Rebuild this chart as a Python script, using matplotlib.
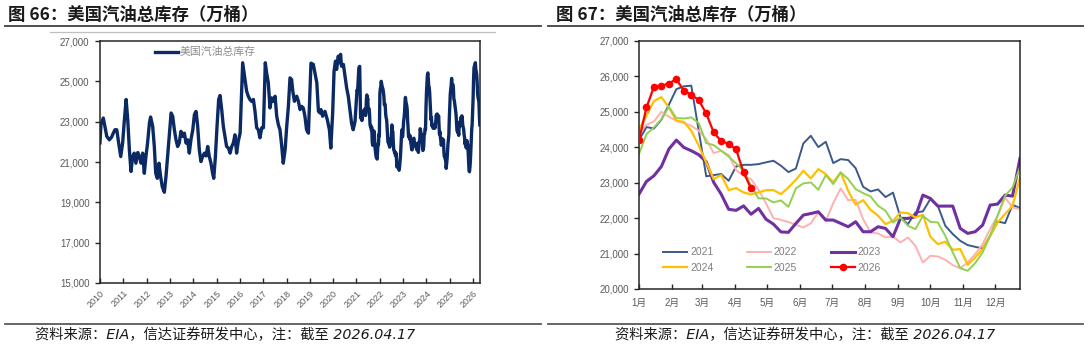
import matplotlib
matplotlib.use("Agg")
import matplotlib.pyplot as plt
from matplotlib.lines import Line2D
import numpy as np

plt.rcParams['font.family'] = ['Liberation Sans', 'Noto Sans CJK SC', 'DejaVu Sans']

# ---------------- data ----------------
# Left panel: 2010-2020 readings (decimal year, 10k barrels)
early_dates = [2010.00, 2010.04, 2010.14, 2010.21, 2010.29, 2010.40, 2010.50, 2010.57, 2010.64, 2010.72,
               2010.79, 2010.89, 2010.97, 2011.04, 2011.12, 2011.19, 2011.26, 2011.33, 2011.40, 2011.47,
               2011.54, 2011.62, 2011.69, 2011.76, 2011.83, 2011.90, 2011.97, 2012.04, 2012.12, 2012.17,
               2012.26, 2012.33, 2012.39, 2012.46, 2012.53, 2012.60, 2012.67, 2012.76, 2012.83, 2012.90,
               2012.97, 2013.05, 2013.12, 2013.19, 2013.26, 2013.33, 2013.40, 2013.47, 2013.55, 2013.62,
               2013.69, 2013.76, 2013.83, 2013.90, 2013.98, 2014.05, 2014.12, 2014.19, 2014.26, 2014.33,
               2014.40, 2014.48, 2014.55, 2014.62, 2014.69, 2014.76, 2014.83, 2014.88, 2014.95, 2015.02,
               2015.09, 2015.15, 2015.22, 2015.29, 2015.36, 2015.43, 2015.51, 2015.58, 2015.65, 2015.72,
               2015.79, 2015.86, 2015.93, 2016.01, 2016.06, 2016.12, 2016.22, 2016.29, 2016.36, 2016.43,
               2016.51, 2016.58, 2016.65, 2016.72, 2016.79, 2016.86, 2016.94, 2017.01, 2017.09, 2017.15,
               2017.22, 2017.29, 2017.36, 2017.44, 2017.51, 2017.58, 2017.65, 2017.72, 2017.79, 2017.86,
               2017.94, 2018.01, 2018.08, 2018.15, 2018.22, 2018.27, 2018.34, 2018.44, 2018.51, 2018.58,
               2018.65, 2018.72, 2018.79, 2018.86, 2018.94, 2019.05, 2019.15, 2019.22, 2019.30, 2019.37,
               2019.44, 2019.48, 2019.55, 2019.65, 2019.75, 2019.84, 2019.90, 2019.98, 2020.04, 2020.10,
               2020.15, 2020.22, 2020.27, 2020.32, 2020.36, 2020.44, 2020.51, 2020.58, 2020.65, 2020.72,
               2020.79, 2020.86, 2020.94]
early_values = [21950, 22850, 23180, 22770, 22270, 22100, 22240, 22430, 22600, 22600,
                22020, 21270, 21940, 23000, 24100, 23100, 21600, 20530, 21270, 21440,
                20940, 21470, 21270, 20940, 21440, 20440, 21270, 21940, 22930, 23230,
                22770, 21770, 20440, 20190, 20940, 20280, 19780, 19500, 20280, 21270,
                22270, 23430, 23260, 22600, 22100, 21770, 21940, 22520, 22270, 22430,
                21940, 22100, 21440, 22100, 22600, 23350, 23510, 22770, 21600, 21020,
                21270, 21440, 21300, 21770, 21270, 20940, 20440, 20190, 21270, 22770,
                24100, 24300, 23600, 22770, 22270, 21770, 21690, 21440, 21770, 21940,
                22350, 21440, 22020, 22430, 24000, 25920, 25090, 24510, 24260, 24100,
                24000, 24100, 23500, 22700, 22600, 22200, 22700, 22700, 25920, 25400,
                24930, 23680, 24180, 24010, 24260, 23270, 22850, 22600, 21850, 20940,
                21600, 22770, 23760, 25170, 25090, 24510, 24010, 24260, 24010, 23600,
                23760, 23680, 23270, 22600, 22430, 25900, 25840, 25420, 24930, 23510,
                23430, 23600, 23270, 23510, 23100, 22600, 21690, 23430, 25500, 26000,
                25590, 26250, 25920, 26340, 25750, 25840, 25260, 24670, 24260, 23600,
                22930, 22600, 23020]

# Weekly values by year (right panel, and left panel from 2021)
years = [2021, 2022, 2023, 2024, 2025, 2026]
v2021 = [24200, 24570, 24530, 24780, 25200, 25640, 25720, 25740, 24460, 23180,
         23215, 23245, 23055, 23460, 23505, 23505, 23525, 23575, 23620, 23480,
         23300, 23400, 24110, 24325, 24005, 24155, 23555, 23665, 23640, 23410,
         22885, 22755, 22810, 22595, 22720, 22020, 21830, 22160, 22190, 22540,
         22350, 21785, 21550, 21360, 21240, 21190, 21145, 21500, 21905, 21860,
         22375, 22285]
v2022 = [24400, 24635, 24730, 25002, 24861, 24748, 24683, 24607, 24466, 24231,
         23836, 23902, 23779, 23356, 23196, 23102, 22800, 22420, 22000, 21950,
         21890, 21815, 21735, 21855, 22161, 21925, 22424, 22838, 22509, 22518,
         21972, 21596, 21568, 21455, 21480, 21314, 21455, 21220, 20749, 20937,
         20918, 20824, 20674, 20589, 20749, 20984, 21267, 21690, 22067, 22584,
         22302, 22255]
v2023 = [22678, 23036, 23196, 23459, 23949, 24203, 23996, 23902, 23789, 23591,
         23008, 22678, 22250, 22220, 22345, 22110, 22275, 21970, 21830, 21610,
         21600, 21850, 22086, 22130, 22180, 21946, 21946, 21852, 21757, 21898,
         21616, 21616, 21757, 21710, 21475, 21993, 21993, 22040, 22650, 22557,
         22340, 22340, 22340, 21710, 21570, 21616, 21804, 22368, 22397, 22650,
         22622, 23685]
v2024 = [24500, 24890, 25304, 25417, 25125, 24748, 24720, 24466, 24043, 23572,
         23102, 23215, 22791, 22848, 22725, 22669, 22725, 22790, 22791, 22678,
         22867, 23083, 23337, 23120, 23384, 23243, 23008, 23290, 22772, 22377,
         22509, 22236, 22067, 21831, 21925, 22161, 22142, 22020, 22095, 21474,
         21267, 21333, 21107, 21126, 20683, 20890, 21126, 21502, 21878, 22114,
         22349, 23149]
v2025 = [23807, 24372, 24560, 24795, 25144, 24824, 24814, 24843, 24683, 24118,
         24062, 23902, 23741, 23544, 23337, 22913, 22557, 22557, 22445, 22500,
         22320, 22840, 22980, 23008, 22800, 23215, 22961, 23290, 23102, 22819,
         22706, 22612, 22349, 22208, 21878, 22020, 21784, 21690, 22067, 21897,
         21878, 21502, 21032, 20589, 20514, 20730, 21032, 21502, 22067, 22631,
         22866, 23431]
v2026 = [24200, 25125, 25708, 25737, 25800, 25925, 25595, 25482, 25332, 24955,
         24419, 24174, 24099, 23939, 23290, 22838]
weekly = [v2021, v2022, v2023, v2024, v2025, v2026]

year_ticks = list(range(2010, 2027))
month_labels = ['1月', '2月', '3月', '4月', '5月', '6月', '7月', '8月', '9月', '10月', '11月', '12月']
month_start_day = [0, 31, 59, 90, 120, 151, 181, 212, 243, 273, 304, 334]
colors = ['#3B5A8A', '#FFB0B0', '#7030A0', '#FFC000', '#92D050', '#FF0000']
widths = [1.4, 1.4, 2.2, 1.6, 1.4, 1.6]

# ---------------- figure ----------------
W, H = 1088, 349
fig = plt.figure(figsize=(W / 100, H / 100), dpi=100)

def fx(px):
    return px / W

def fy(py):
    return 1 - py / H

gray_txt = '#595959'
spine_col = '#262626'
cjk = ['Noto Sans CJK SC', 'DejaVu Sans']

# decorative rules and titles
for x0, x1 in [(5, 541), (548, 1083)]:
    fig.add_artist(Line2D([fx(x0), fx(x1)], [fy(25.5), fy(25.5)], color='#404040', lw=1.3))
    fig.add_artist(Line2D([fx(x0), fx(x1)], [fy(324), fy(324)], color='#595959', lw=1.3))
fig.add_artist(Line2D([fx(50), fx(495)], [fy(31.5), fy(31.5)], color='#BFBFBF', lw=0.9))

fig.text(fx(8), fy(14.5), '图 66：美国汽油总库存（万桶）', fontsize=12.5, fontweight='bold',
         family=cjk, va='center', ha='left', color='#1a1a1a')
fig.text(fx(556), fy(14.5), '图 67：美国汽油总库存（万桶）', fontsize=12.5, fontweight='bold',
         family=cjk, va='center', ha='left', color='#1a1a1a')
src = '资料来源：EIA，信达证券研发中心，注：截至 2026.04.17'
fig.text(fx(35), fy(335), src, fontsize=10.3, style='italic', family=['DejaVu Sans', 'Noto Sans CJK SC'],
         va='center', ha='left', color='#1a1a1a')
fig.text(fx(615), fy(335), src, fontsize=10.3, style='italic', family=['DejaVu Sans', 'Noto Sans CJK SC'],
         va='center', ha='left', color='#1a1a1a')

# ---------------- left panel ----------------
axL = fig.add_axes([fx(100), fy(283), fx(380), (283 - 41) / H])
dates_all = list(early_dates)
vals_all = list(early_values)
for yr, vals in zip(years, weekly):
    for i, v in enumerate(vals):
        dates_all.append(yr + (7 * i + 2) / 365.25)
        vals_all.append(v)
axL.plot(dates_all, vals_all, color='#0B2A63', lw=2.4, solid_joinstyle='round', label='美国汽油总库存')
axL.set_xlim(2010, 2026.30)
axL.set_ylim(15000, 27000)
axL.set_yticks(range(15000, 27001, 2000))
axL.set_yticklabels([f'{v:,}' for v in range(15000, 27001, 2000)])
axL.set_xticks(year_ticks)
axL.set_xticklabels([str(y) for y in year_ticks], rotation=45, ha='right', va='top',
                    rotation_mode='anchor')
axL.tick_params(axis='y', direction='out', length=3.6, width=1, pad=4, labelsize=7,
                labelcolor=gray_txt, color=spine_col)
axL.tick_params(axis='x', direction='in', length=3.5, width=1, pad=4, labelsize=6.5,
                labelcolor=gray_txt, color=spine_col)
for s in axL.spines.values():
    s.set_color(spine_col)
    s.set_linewidth(1.1)
legL = axL.legend(loc='upper left', bbox_to_anchor=(0.145, 0.975), frameon=False,
                  handlelength=2.1, handletextpad=0.2, borderpad=0, borderaxespad=0,
                  prop={'family': cjk, 'size': 7.8})
for t in legL.get_texts():
    t.set_color('#8c8c8c')

# ---------------- right panel ----------------
axR = fig.add_axes([fx(639), fy(289), fx(381), (289 - 41) / H])
handles = []
for yr, vals, c, lw in zip(years, weekly, colors, widths):
    days = [7 * i for i in range(len(vals))]
    if yr == 2026:
        h, = axR.plot(days, vals, color=c, lw=lw, marker='o', markersize=4.5, label=str(yr), zorder=5)
    else:
        h, = axR.plot(days, vals, color=c, lw=lw, label=str(yr))
    handles.append(h)
axR.set_xlim(0, 357)
axR.set_ylim(20000, 27000)
axR.set_yticks(range(20000, 27001, 1000))
axR.set_yticklabels([f'{v:,}' for v in range(20000, 27001, 1000)])
axR.set_xticks(month_start_day)
axR.set_xticklabels(month_labels)
axR.tick_params(axis='y', direction='out', length=3.6, width=1, pad=3.5, labelsize=7,
                labelcolor=gray_txt, color=spine_col)
axR.tick_params(axis='x', direction='in', length=3.5, width=1, pad=6.5, labelsize=7,
                labelcolor=gray_txt, color=spine_col)
for s in axR.spines.values():
    s.set_color(spine_col)
    s.set_linewidth(1.1)
order = [0, 3, 1, 4, 2, 5]
legR = axR.legend([handles[i] for i in order], [str(years[i]) for i in order], ncol=3,
                  loc='upper left', bbox_to_anchor=(0.063, 0.168), frameon=False,
                  fontsize=7.5, handlelength=2.3, handletextpad=0.3, columnspacing=3.2,
                  labelspacing=0.5, borderpad=0, borderaxespad=0)
for t in legR.get_texts():
    t.set_color('#7f7f7f')

fig.savefig('out.png', dpi=100)
